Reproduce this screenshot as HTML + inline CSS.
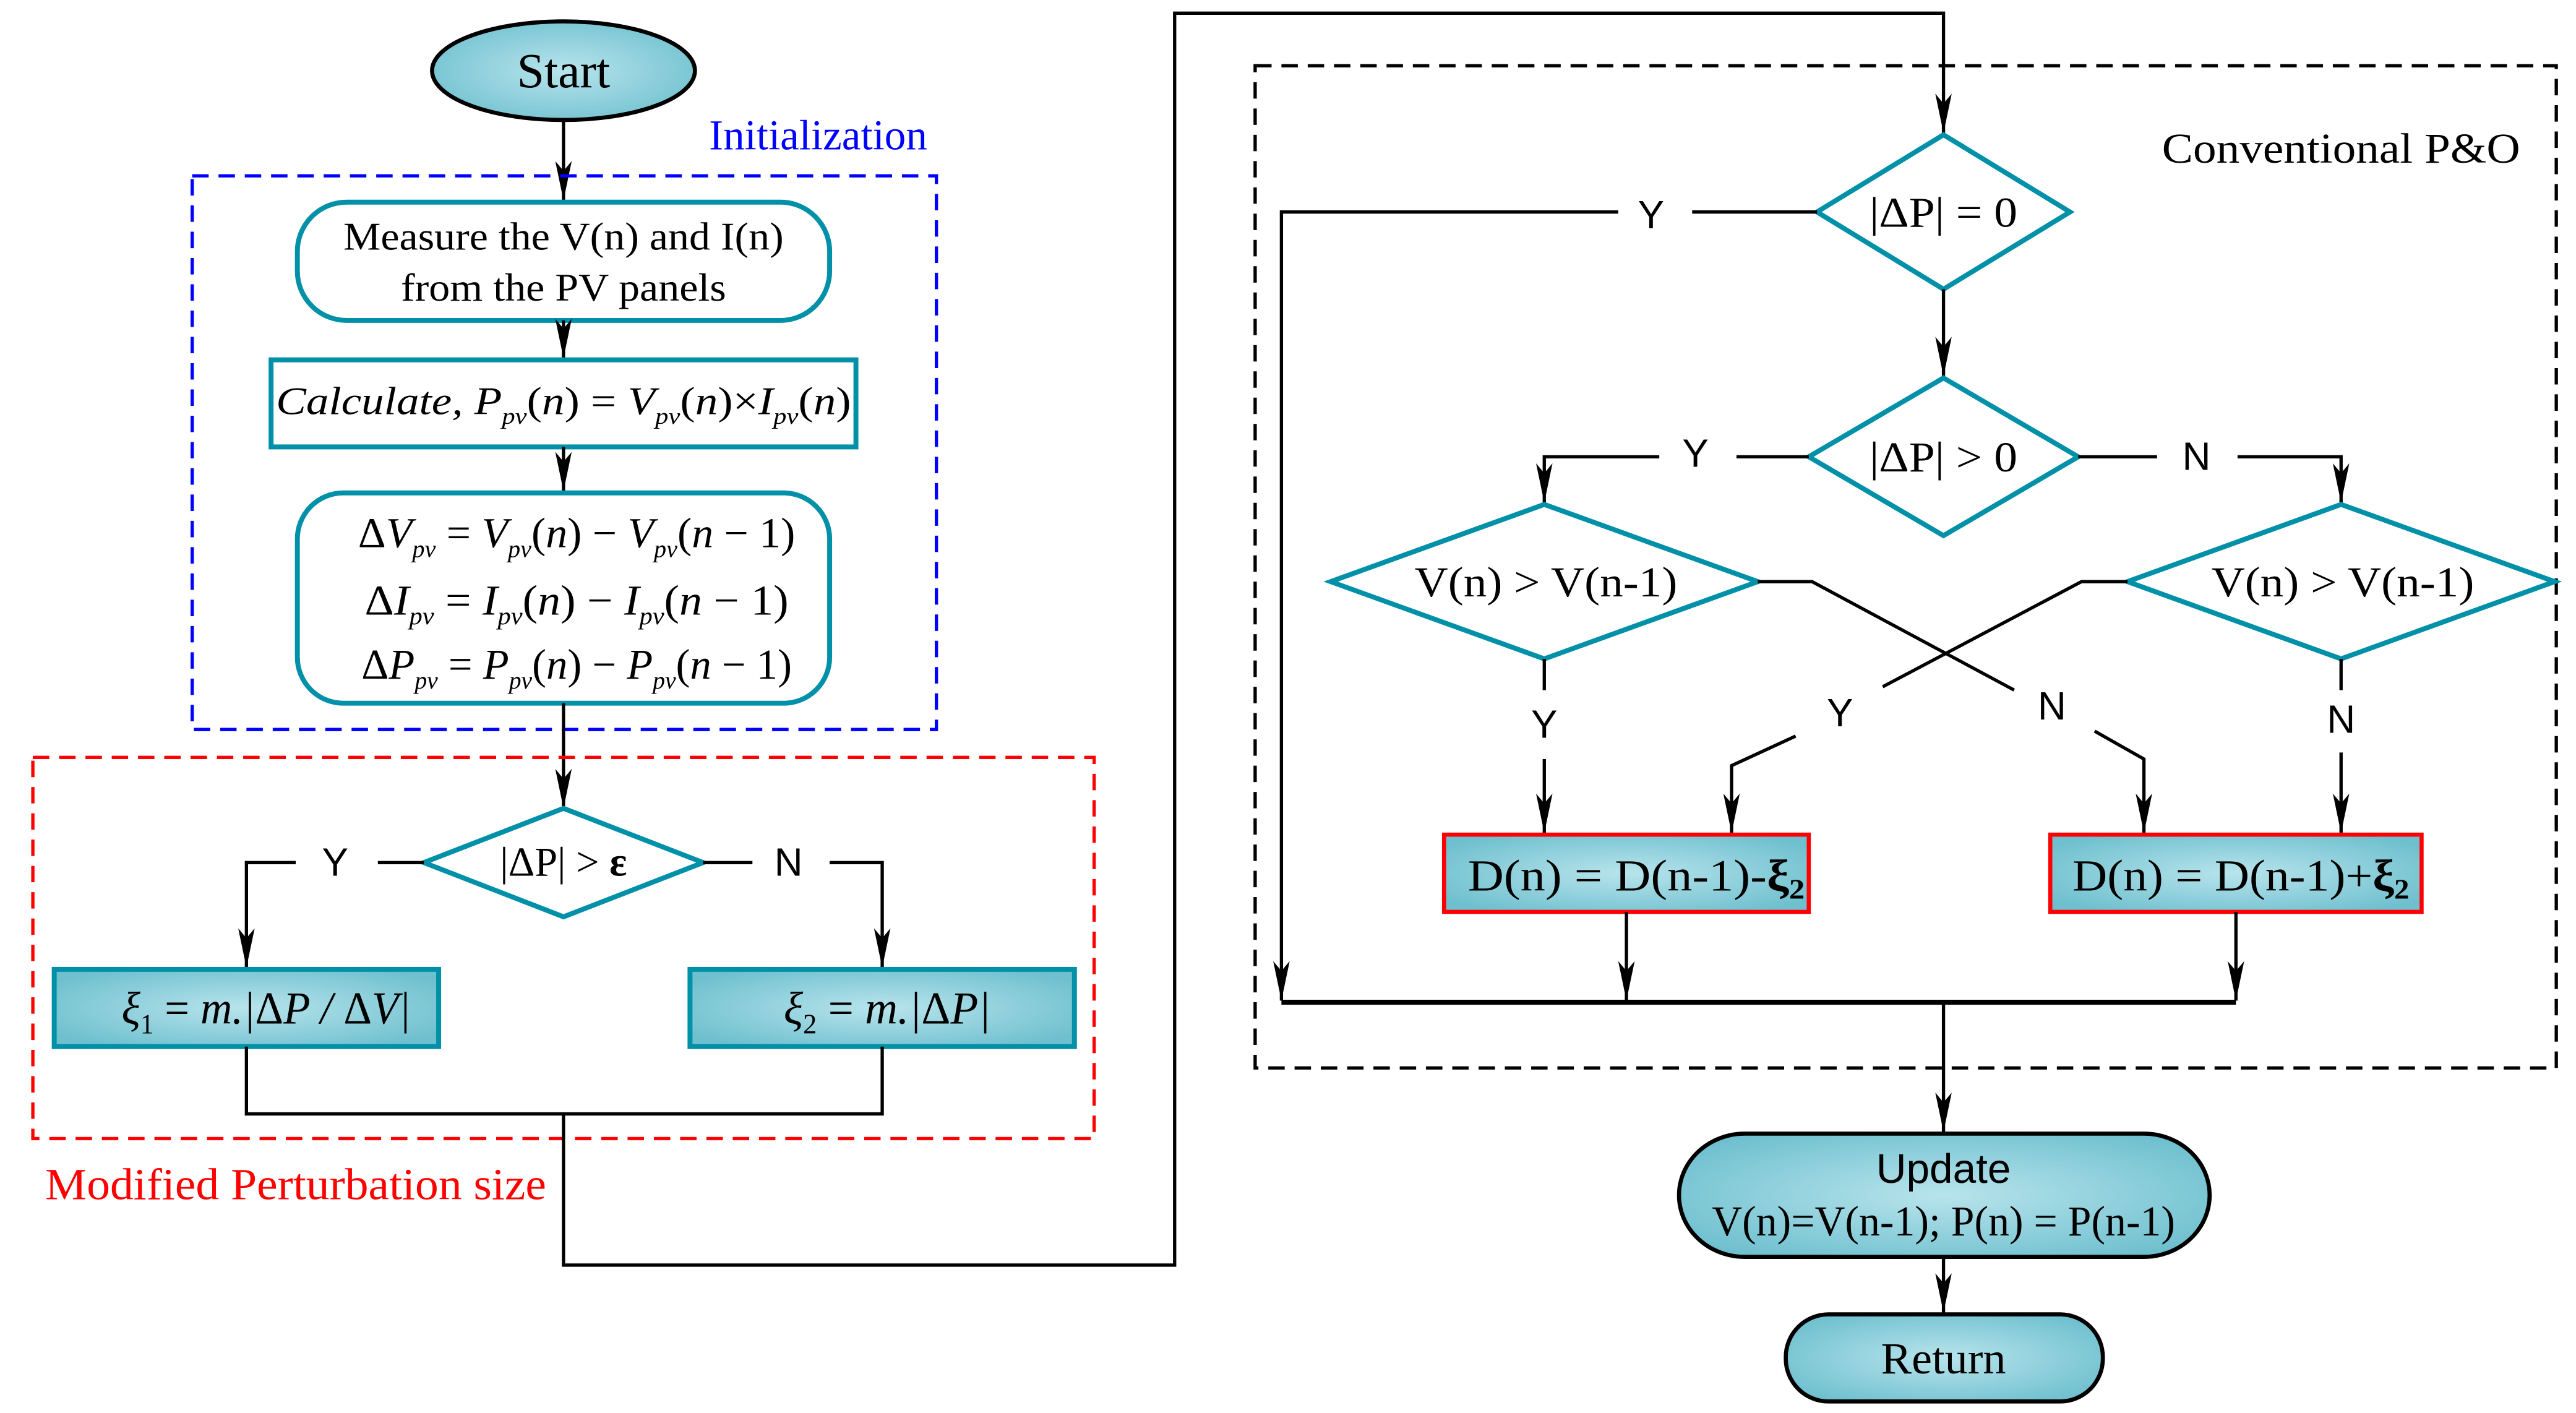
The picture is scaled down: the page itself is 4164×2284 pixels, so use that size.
<!DOCTYPE html>
<html><head><style>html,body{margin:0;padding:0;background:#fff}svg{display:block}</style></head>
<body>
<svg width="4164" height="2284" viewBox="0 0 1568 860" xmlns="http://www.w3.org/2000/svg" font-family="Liberation Serif, serif">
<defs>
<radialGradient id="g" cx="50%" cy="50%" r="60%"><stop offset="0" stop-color="#b8e4ec"/><stop offset="1" stop-color="#6fc0cf"/></radialGradient>
<marker id="a" viewBox="0 0 24 10" refX="24" refY="5" markerWidth="24" markerHeight="10" markerUnits="userSpaceOnUse" orient="auto">
<path d="M0,0 L6,5 L0,10 L24,5 Z" fill="#000"/></marker>
</defs>
<style>
.l{stroke:#000;stroke-width:2;fill:none}
.t{stroke:#0090a8;stroke-width:3}
text{fill:#000}
</style>
<!-- Start -->
<ellipse cx="343" cy="43" rx="80" ry="30" fill="url(#g)" stroke="#000" stroke-width="2.5"/>
<text x="343" y="53" font-size="30" text-anchor="middle">Start</text>
<text x="498" y="91" font-size="26" text-anchor="middle" style="fill:#0000ff">Initialization</text>
<line class="l" x1="343" y1="74" x2="343" y2="122" marker-end="url(#a)"/>
<rect x="117" y="107" width="453" height="337" fill="none" stroke="#0000ff" stroke-width="2" stroke-dasharray="10,6"/>
<rect x="181" y="123" width="324" height="72" rx="30" fill="#fff" class="t"/>
<text x="343" y="152" font-size="24" text-anchor="middle" textLength="268" lengthAdjust="spacingAndGlyphs">Measure the V(n) and I(n)</text>
<text x="343" y="183" font-size="24" text-anchor="middle" textLength="198" lengthAdjust="spacingAndGlyphs">from the PV panels</text>
<line class="l" x1="343" y1="195" x2="343" y2="218" marker-end="url(#a)"/>
<rect x="165" y="219" width="356" height="53" fill="#fff" class="t"/>
<text x="343" y="252" font-size="24" font-style="italic" text-anchor="middle" textLength="350" lengthAdjust="spacingAndGlyphs">Calculate, P<tspan font-size="14" dy="6">pv</tspan><tspan dy="-6" font-style="normal">(</tspan>n<tspan font-style="normal">) = </tspan>V<tspan font-size="14" dy="6">pv</tspan><tspan dy="-6" font-style="normal">(</tspan>n<tspan font-style="normal">)×</tspan>I<tspan font-size="14" dy="6">pv</tspan><tspan dy="-6" font-style="normal">(</tspan>n<tspan font-style="normal">)</tspan></text>
<line class="l" x1="343" y1="272" x2="343" y2="299" marker-end="url(#a)"/>
<rect x="181" y="300" width="324" height="128" rx="28" fill="#fff" class="t"/>
<g font-size="26" font-style="italic" text-anchor="middle">
<text x="351" y="333" textLength="266" lengthAdjust="spacingAndGlyphs"><tspan font-style="normal">Δ</tspan>V<tspan font-size="15" dy="6">pv</tspan><tspan dy="-6" font-style="normal"> = </tspan>V<tspan font-size="15" dy="6">pv</tspan><tspan dy="-6" font-style="normal">(</tspan>n<tspan font-style="normal">) − </tspan>V<tspan font-size="15" dy="6">pv</tspan><tspan dy="-6" font-style="normal">(</tspan>n<tspan font-style="normal"> − 1)</tspan></text>
<text x="351" y="374" textLength="258" lengthAdjust="spacingAndGlyphs"><tspan font-style="normal">Δ</tspan>I<tspan font-size="15" dy="6">pv</tspan><tspan dy="-6" font-style="normal"> = </tspan>I<tspan font-size="15" dy="6">pv</tspan><tspan dy="-6" font-style="normal">(</tspan>n<tspan font-style="normal">) − </tspan>I<tspan font-size="15" dy="6">pv</tspan><tspan dy="-6" font-style="normal">(</tspan>n<tspan font-style="normal"> − 1)</tspan></text>
<text x="351" y="413" textLength="262" lengthAdjust="spacingAndGlyphs"><tspan font-style="normal">Δ</tspan>P<tspan font-size="15" dy="6">pv</tspan><tspan dy="-6" font-style="normal"> = </tspan>P<tspan font-size="15" dy="6">pv</tspan><tspan dy="-6" font-style="normal">(</tspan>n<tspan font-style="normal">) − </tspan>P<tspan font-size="15" dy="6">pv</tspan><tspan dy="-6" font-style="normal">(</tspan>n<tspan font-style="normal"> − 1)</tspan></text>
</g>
<line class="l" x1="343" y1="428" x2="343" y2="492" marker-end="url(#a)"/>
<!-- Modified -->
<rect x="20" y="461" width="646" height="232" fill="none" stroke="#ff0000" stroke-width="2" stroke-dasharray="10,6"/>
<text x="180" y="730" font-size="27" text-anchor="middle" style="fill:#ff0000" textLength="305" lengthAdjust="spacingAndGlyphs">Modified Perturbation size</text>
<polygon points="343,492 428,525 343,558 258,525" fill="#fff" class="t"/>
<text x="343" y="533" font-size="25" text-anchor="middle">|ΔP| &gt; <tspan font-weight="bold">ε</tspan></text>
<g font-family="Liberation Sans, sans-serif" font-size="24" text-anchor="middle">
<text x="204" y="533">Y</text><text x="480" y="533">N</text>
</g>
<polyline class="l" points="258,525 230,525"/><polyline class="l" points="180,525 150,525 150,589" marker-end="url(#a)"/>
<polyline class="l" points="428,525 458,525"/><polyline class="l" points="505,525 537,525 537,589" marker-end="url(#a)"/>
<rect x="33" y="590" width="234" height="47" fill="url(#g)" class="t" stroke-width="2"/>
<text x="162" y="623" font-size="28" font-style="italic" text-anchor="middle" textLength="176" lengthAdjust="spacingAndGlyphs">ξ<tspan font-size="17" dy="6" font-style="normal">1</tspan><tspan dy="-6" font-style="normal"> = </tspan>m.|<tspan font-style="normal">Δ</tspan>P / <tspan font-style="normal">Δ</tspan>V|</text>
<rect x="420" y="590" width="234" height="47" fill="url(#g)" class="t" stroke-width="2"/>
<text x="540" y="623" font-size="28" font-style="italic" text-anchor="middle" textLength="126" lengthAdjust="spacingAndGlyphs">ξ<tspan font-size="17" dy="6" font-style="normal">2</tspan><tspan dy="-6" font-style="normal"> = </tspan>m.|<tspan font-style="normal">Δ</tspan>P|</text>
<polyline class="l" points="150,637 150,678 537,678 537,637"/>
<polyline class="l" points="343,678 343,770 715,770 715,8 1183,8 1183,81" marker-end="url(#a)"/>
<!-- Conventional -->
<rect x="764" y="40" width="792" height="610" fill="none" stroke="#000" stroke-width="2" stroke-dasharray="10,6"/>
<text x="1425" y="99" font-size="26" text-anchor="middle" textLength="218" lengthAdjust="spacingAndGlyphs">Conventional P&amp;O</text>
<polygon points="1183,82 1260,129 1183,176 1106,129" fill="#fff" class="t"/>
<text x="1183" y="138" font-size="26" text-anchor="middle" textLength="90" lengthAdjust="spacingAndGlyphs">|ΔP| = 0</text>
<line class="l" x1="1106" y1="129" x2="1030" y2="129"/>
<polyline class="l" points="985,129 780,129 780,609" marker-end="url(#a)"/>
<line class="l" x1="1183" y1="176" x2="1183" y2="229" marker-end="url(#a)"/>
<polygon points="1183,230 1265,278 1183,326 1101,278" fill="#fff" class="t"/>
<text x="1183" y="287" font-size="26" text-anchor="middle" textLength="90" lengthAdjust="spacingAndGlyphs">|ΔP| &gt; 0</text>
<g font-family="Liberation Sans, sans-serif" font-size="24" text-anchor="middle">
<text x="1005" y="139">Y</text>
<text x="1032" y="284">Y</text><text x="1337" y="286">N</text>
<text x="940" y="449">Y</text><text x="1120" y="442">Y</text>
<text x="1249" y="438">N</text><text x="1425" y="446">N</text>
</g>
<line class="l" x1="1101" y1="278" x2="1057" y2="278"/>
<polyline class="l" points="1010,278 940,278 940,306" marker-end="url(#a)"/>
<line class="l" x1="1265" y1="278" x2="1313" y2="278"/>
<polyline class="l" points="1362,278 1425,278 1425,306" marker-end="url(#a)"/>
<polygon points="940,307 1070,354 940,401 810,354" fill="#fff" class="t"/>
<text x="941" y="363" font-size="26" text-anchor="middle" textLength="160" lengthAdjust="spacingAndGlyphs">V(n) &gt; V(n-1)</text>
<polygon points="1425,307 1555,354 1425,401 1295,354" fill="#fff" class="t"/>
<text x="1426" y="363" font-size="26" text-anchor="middle" textLength="160" lengthAdjust="spacingAndGlyphs">V(n) &gt; V(n-1)</text>
<polyline class="l" points="1070,354 1103,354 1226,420"/>
<polyline class="l" points="1275,445 1305,462 1305,507" marker-end="url(#a)"/>
<polyline class="l" points="1295,354 1267,354 1146,418"/>
<polyline class="l" points="1093,448 1054,466 1054,507" marker-end="url(#a)"/>
<line class="l" x1="940" y1="401" x2="940" y2="420"/>
<line class="l" x1="940" y1="462" x2="940" y2="507" marker-end="url(#a)"/>
<line class="l" x1="1425" y1="401" x2="1425" y2="420"/>
<line class="l" x1="1425" y1="458" x2="1425" y2="507" marker-end="url(#a)"/>
<rect x="879" y="508" width="222" height="47" fill="url(#g)" stroke="#ff0000" stroke-width="2.5"/>
<text x="996" y="542" font-size="27" text-anchor="middle" textLength="205" lengthAdjust="spacingAndGlyphs">D(n) = D(n-1)-<tspan font-weight="bold">ξ<tspan font-size="17" dy="5">2</tspan></tspan></text>
<rect x="1248" y="508" width="226" height="47" fill="url(#g)" stroke="#ff0000" stroke-width="2.5"/>
<text x="1364" y="542" font-size="27" text-anchor="middle" textLength="205" lengthAdjust="spacingAndGlyphs">D(n) = D(n-1)+<tspan font-weight="bold">ξ<tspan font-size="17" dy="5">2</tspan></tspan></text>
<line class="l" x1="990" y1="555" x2="990" y2="609" marker-end="url(#a)"/>
<line class="l" x1="1361" y1="555" x2="1361" y2="609" marker-end="url(#a)"/>
<line x1="780" y1="610" x2="1361" y2="610" stroke="#000" stroke-width="3"/>
<line class="l" x1="1183" y1="610" x2="1183" y2="689" marker-end="url(#a)"/>
<rect x="1022" y="690" width="323" height="75" rx="40" fill="url(#g)" stroke="#000" stroke-width="2.5"/>
<text x="1183" y="720" font-size="25" font-family="Liberation Sans, sans-serif" text-anchor="middle" textLength="82" lengthAdjust="spacingAndGlyphs">Update</text>
<text x="1183" y="752" font-size="26" text-anchor="middle" textLength="282" lengthAdjust="spacingAndGlyphs">V(n)=V(n-1); P(n) = P(n-1)</text>
<line class="l" x1="1183" y1="765" x2="1183" y2="799" marker-end="url(#a)"/>
<rect x="1087" y="800" width="193" height="53" rx="26" fill="url(#g)" stroke="#000" stroke-width="2.5"/>
<text x="1183" y="836" font-size="27" text-anchor="middle" textLength="76" lengthAdjust="spacingAndGlyphs">Return</text>
</svg>
</body></html>
